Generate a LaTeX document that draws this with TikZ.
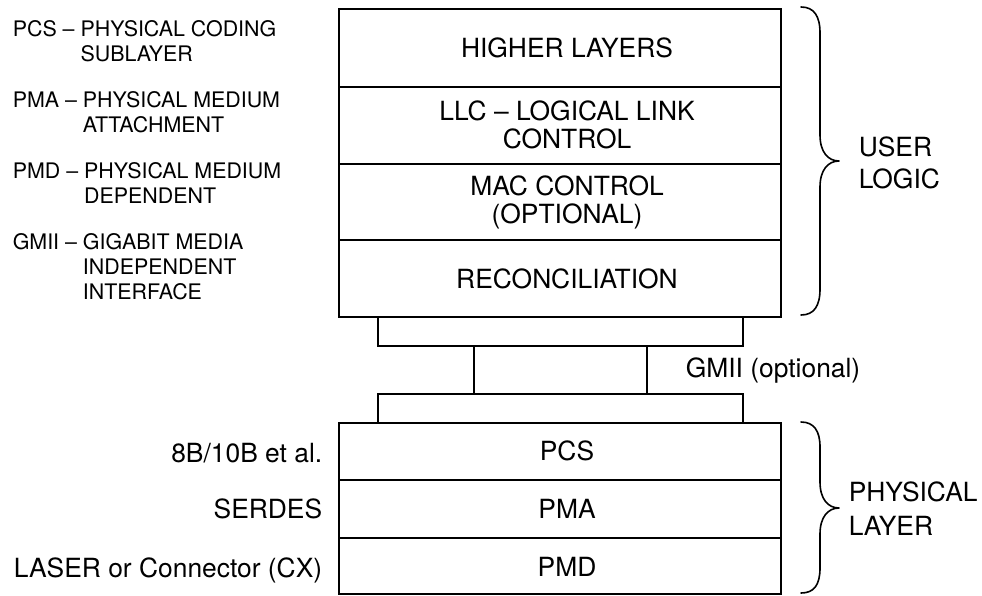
\documentclass[tikz,border=0pt]{standalone}
\usepackage{fontspec}
\setmainfont{TeX Gyre Heros}
\begin{document}
\begin{tikzpicture}[x=1pt,y=-1pt, line width=1.6pt,
  box/.style={draw, rectangle, inner sep=0pt, anchor=north west, minimum width=442pt},
  gbox/.style={draw, rectangle, inner sep=0pt, anchor=north west},
  big/.style={font=\fontsize{26.4}{28}\selectfont, inner sep=0pt},
  small/.style={font=\fontsize{21.4}{25}\selectfont, inner sep=0pt, align=left, anchor=west},
  brace/.style={line width=1.6pt, line cap=round, line join=round}]
\useasboundingbox (0,0) rectangle (982,595);

% upper stack
\node[box, minimum height=78pt] (hl) at (338,8) {};
\node[box, minimum height=77pt] (llc) at (338,86) {};
\node[box, minimum height=76pt] (mac) at (338,163) {};
\node[box, minimum height=77pt] (rec) at (338,239) {};

% GMII connector boxes
\node[gbox, minimum width=365pt, minimum height=29pt] (c1) at (377,316) {};
\node[gbox, minimum width=173pt, minimum height=48pt] (c2) at (473,345) {};
\node[gbox, minimum width=365pt, minimum height=29pt] (c3) at (377,393) {};

% lower stack
\node[box, minimum height=57pt] (pcs) at (338,422) {};
\node[box, minimum height=58pt] (pma) at (338,479) {};
\node[box, minimum height=56pt] (pmd) at (338,537) {};

% box texts
\node[big, anchor=base] (thl) at (567,57) {HIGHER LAYERS};
\node[big, align=center] (tllc) at (567,125) {LLC – LOGICAL LINK\\CONTROL};
\node[big, align=center] (tmac) at (567,202) {MAC CONTROL\\(OPTIONAL)};
\node[big, anchor=base] (trec) at (567,288) {RECONCILIATION};
\node[big, anchor=base] (tpcs) at (567,460) {PCS};
\node[big, anchor=base] (tpma) at (567,518) {PMA};
\node[big, anchor=base] (tpmd) at (567,576) {PMD};

% side labels
\node[big, anchor=base east] (l8b) at (323,462) {8B/10B et al.};
\node[big, anchor=base east] (lser) at (323,518) {SERDES};
\node[big, anchor=base east] (llas) at (323,577) {LASER or Connector (CX)};
\node[big, anchor=base west] (lgmii) at (685,377) {GMII (optional)};
\node[big, align=left, anchor=west, font=\fontsize{26.4}{32}\selectfont] (ul) at (858,163) {USER\\LOGIC};
\node[big, align=left, anchor=west, font=\fontsize{26.4}{34}\selectfont] (pl) at (848,509) {PHYSICAL\\LAYER};

% legend
\node[small] (gpcs) at (12,41.5) {PCS – PHYSICAL CODING\\\hphantom{PCS – }SUBLAYER};
\node[small] (gpma) at (12,112) {PMA – PHYSICAL MEDIUM\\\hphantom{PMA – }ATTACHMENT};
\node[small] (gpmd) at (12,183) {PMD – PHYSICAL MEDIUM\\\hphantom{PMD – }DEPENDENT};
\node[small] (ggmii) at (12,266.5) {GMII – GIGABIT MEDIA\\\hphantom{GMII – }INDEPENDENT\\\hphantom{GMII – }INTERFACE};

% braces
\draw[brace] (801,7) .. controls (814,7) and (820,16) .. (820,33) -- (820,135)
  .. controls (820,152) and (828,161) .. (839,161)
  .. controls (828,161) and (820,170) .. (820,187) -- (820,289)
  .. controls (820,306) and (814,315) .. (801,315);
\draw[brace] (801,422) .. controls (814,422) and (820,431) .. (820,447) -- (820,482)
  .. controls (820,499) and (828,508) .. (839,508)
  .. controls (828,508) and (820,517) .. (820,534) -- (820,568)
  .. controls (820,585) and (814,593) .. (801,593);
\end{tikzpicture}
\end{document}
